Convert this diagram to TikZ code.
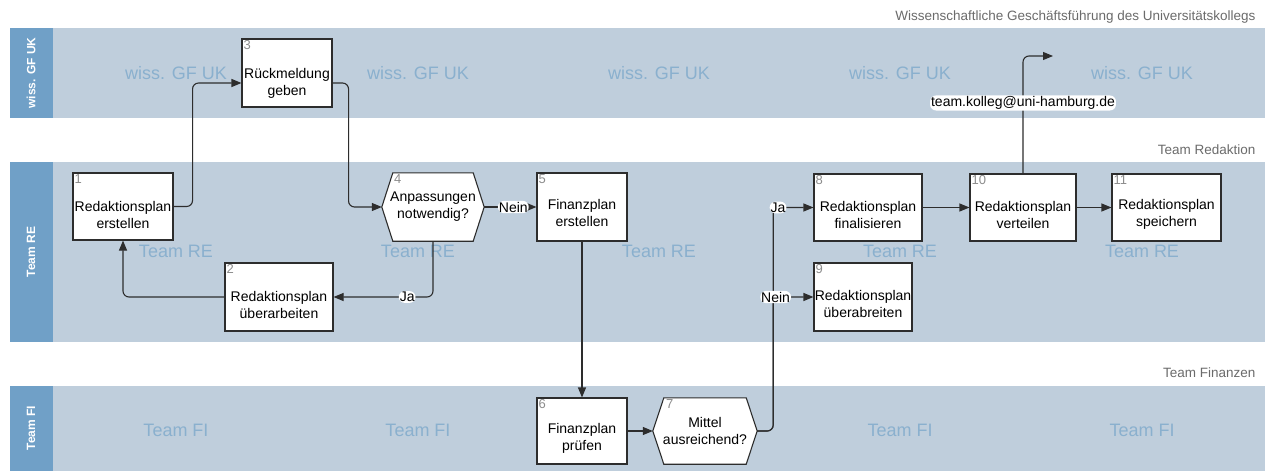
\documentclass[tikz,border=0pt]{standalone}
\usepackage{fontspec}
\setmainfont{Liberation Sans}
\usetikzlibrary{arrows.meta,calc}
\pgfdeclarelayer{lanes}
\pgfdeclarelayer{shapes}
\pgfsetlayers{lanes,shapes,main}
\definecolor{lanebody}{RGB}{191,206,220}
\definecolor{lanehead}{RGB}{112,160,199}
\definecolor{wmcol}{RGB}{138,176,206}
\definecolor{numcol}{RGB}{140,140,140}
\definecolor{linecol}{RGB}{45,45,45}
\begin{document}
\begin{tikzpicture}[x=1pt,y=-1pt,
  stepbox/.style={draw=linecol, line width=1.1pt, fill=white, inner sep=0pt},
  hexbox/.style={inner sep=0pt, align=center, font=\fontsize{14}{17}\selectfont},
  txt/.style={align=center, inner sep=0pt, font=\fontsize{14}{17}\selectfont},
  num/.style={anchor=north west, text=numcol, inner sep=2pt, font=\fontsize{13}{13}\selectfont},
  conn/.style={draw=linecol, line width=1.1pt, rounded corners=6pt, -{Triangle[length=10pt,width=8pt]}},
  lbl/.style={fill=white, inner sep=1pt, font=\fontsize{14}{15}\selectfont},
  wm/.style={text=wmcol, font=\fontsize{18}{18}\selectfont},
  lanetitle/.style={rotate=90, text=white, font=\bfseries\fontsize{12}{12}\selectfont},
  toplbl/.style={anchor=east, text=black!58, font=\fontsize{13.5}{15}\selectfont}
]
\useasboundingbox (0,0) rectangle (1265,471);
\begin{pgfonlayer}{lanes}
  \fill[white] (0,0) rectangle (1265,471);
  % lanes
  \fill[lanebody] (10,28) rectangle (1265,118);
  \fill[lanebody] (10,162) rectangle (1265,342);
  \fill[lanebody] (10,386) rectangle (1265,471);
  \fill[lanehead] (10,28) rectangle (53,118);
  \fill[lanehead] (10,162) rectangle (53,342);
  \fill[lanehead] (10,386) rectangle (53,471);
  \node[lanetitle] (lt1) at (31,73) {wiss. GF UK};
  \node[lanetitle] (lt2) at (31,252) {Team RE};
  \node[lanetitle] (lt3) at (31,428) {Team FI};
  % watermarks
  \foreach \x [count=\i] in {176,418,659,900,1142} {
    \node[wm] (wa\i) at (\x,73) {wiss. GF UK};
    \node[wm] (wb\i) at (\x,251) {Team RE};
  }
  \foreach \x [count=\i] in {176,418,900,1142} {
    \node[wm] (wc\i) at (\x,430) {Team FI};
  }
\end{pgfonlayer}

\node[toplbl] (top1) at (1259,17) {Wissenschaftliche Geschäftsführung des Universitätskollegs};
\node[toplbl] (top2) at (1259,150) {Team Redaktion};
\node[toplbl] (top3) at (1259,373) {Team Finanzen};

% boxes
\node[stepbox, minimum width=100pt, minimum height=67pt] (b1) at (123,206.5) {};
\node[txt] (t1) at ([yshift=-8pt]b1.center) {Redaktionsplan\\erstellen};
\node[num] (k1) at (b1.north west) {1};

\node[stepbox, minimum width=108pt, minimum height=68pt] (b2) at (279,297) {};
\node[txt] (t2) at ([yshift=-8pt]b2.center) {Redaktionsplan\\überarbeiten};
\node[num] (k2) at (b2.north west) {2};

\node[stepbox, minimum width=90pt, minimum height=68pt] (b3) at (287,73) {};
\node[txt] (t3) at ([yshift=-10pt]b3.center) {Rückmeldung\\geben};
\node[num] (k3) at (b3.north west) {3};

\node[hexbox, minimum width=102pt, minimum height=68pt] (h4) at (433,207) {Anpassungen\\notwendig?};
\node[num] (k4) at ([xshift=10pt]h4.north west) {4};

\node[stepbox, minimum width=90pt, minimum height=68pt] (b5) at (582,207) {};
\node[txt] (t5) at ([yshift=-6pt]b5.center) {Finanzplan\\erstellen};
\node[num] (k5) at (b5.north west) {5};

\node[stepbox, minimum width=90pt, minimum height=66pt] (b6) at (582,431) {};
\node[txt] (t6) at ([yshift=-7pt]b6.center) {Finanzplan\\prüfen};
\node[num] (k6) at (b6.north west) {6};

\node[hexbox, minimum width=104pt, minimum height=66pt] (h7) at (705,431) {Mittel\\ausreichend?};
\node[num] (k7) at ([xshift=11pt]h7.north west) {7};

\node[stepbox, minimum width=108pt, minimum height=67pt] (b8) at (868,207.5) {};
\node[txt] (t8) at ([yshift=-7pt]b8.center) {Redaktionsplan\\finalisieren};
\node[num] (k8) at (b8.north west) {8};

\node[stepbox, minimum width=98pt, minimum height=68pt] (b9) at (863,297) {};
\node[txt] (t9) at ([yshift=-7pt]b9.center) {Redaktionsplan\\überabreiten};
\node[num] (k9) at (b9.north west) {9};

\node[stepbox, minimum width=106pt, minimum height=67pt] (b10) at (1023,207.5) {};
\node[txt] (t10) at ([yshift=-7pt]b10.center) {Redaktionsplan\\verteilen};
\node[num] (k10) at (b10.north west) {10};

\node[stepbox, minimum width=109pt, minimum height=67pt] (b11) at (1166.5,207.5) {};
\node[txt] (t11) at ([yshift=-7pt]b11.center) {Redaktionsplan\\speichern};
\node[num] (k11) at (b11.north west) {11};

\begin{pgfonlayer}{shapes}
  \foreach \h in {h4,h7} {
    \draw[draw=linecol, line width=1.1pt, fill=white]
      (\h.west) -- ([xshift=11pt]\h.north west) -- ([xshift=-11pt]\h.north east)
      -- (\h.east) -- ([xshift=-11pt]\h.south east) -- ([xshift=11pt]\h.south west) -- cycle;
  }
\end{pgfonlayer}

\coordinate (mailend) at (1053,56);

% connectors
\draw[conn] (b1.east) -- ++(19,0) |- ([yshift=-10pt]b3.west);
\draw[conn] ([yshift=-10pt]b3.east) -- ++(16,0) |- (h4.west);
\draw[conn] (h4.south) |- (b2.east) node[lbl, pos=0.63] (ja1) {Ja};
\draw[conn] (b2.west) -| (b1.south);
\draw[conn] (h4.east) -- (b5.west) node[lbl, midway, xshift=3pt] (nein1) {Nein};
\draw[conn] (b5.south) -- (b6.north);
\draw[conn] (b6.east) -- (h7.west);
\draw[conn] (h7.east) -- ++(16,0) |- (b8.west) node[lbl, pos=0.56] (ja2) {Ja};
\draw[conn] (h7.east) -- ++(16,0) |- (b9.west) node[lbl, pos=0.53] (nein2) {Nein};
\draw[conn] (b8.east) -- (b10.west);
\draw[conn] (b10.east) -- (b11.west);
\draw[conn] (b10.north) |- (mailend) node[lbl, pos=0.3] (mail) {team.kolleg@uni-hamburg.de};
\end{tikzpicture}
\end{document}
